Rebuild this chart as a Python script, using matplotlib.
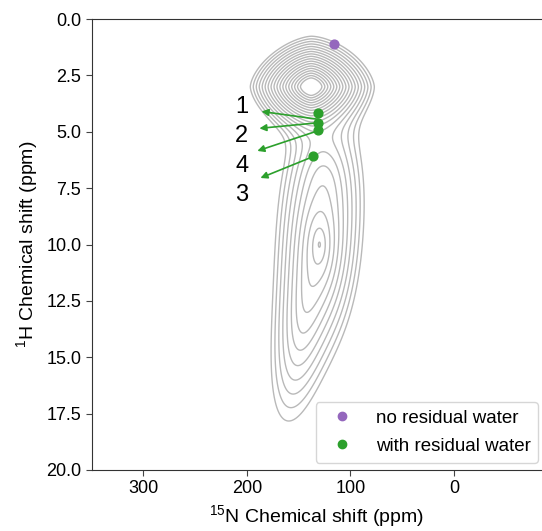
import numpy as np
import matplotlib
matplotlib.use("Agg")
import matplotlib.pyplot as plt
from matplotlib.lines import Line2D

plt.rcParams['font.family'] = ['Liberation Sans', 'DejaVu Sans']
plt.rcParams['mathtext.fontset'] = 'custom'
plt.rcParams['mathtext.rm'] = 'Liberation Sans'

# spectrum peaks:
# centre (15N ppm, 1H ppm), widths, heights, shape exponent,
# slant (15N ppm per 1H ppm) and core (0 = sharp top, 1 = rounded top)
peak_n = [138, 142, 130, 126]
peak_h = [3.0, 12.5, 10.0, 7.0]
width_n = [12.6, 13.0, 17.0, 15.0]
width_h = [0.47, 2.5, 2.0, 1.3]
peak_height = [1.0, 0.035, 0.07, 0.02]
peak_shape = [1.6, 2.0, 2.0, 2.0]
peak_slant = [0.0, 3.5, 0.0, 0.0]
peak_core = [0.0, 1.0, 0.0, 1.0]

# picked points
no_water_n = [116]
no_water_h = [1.1]
water_n = [131, 131, 131, 136]
water_h = [4.18, 4.63, 4.92, 6.06]

# arrows (start -> end) and labels
arrow_start_n = [131, 131, 131, 136]
arrow_start_h = [4.45, 4.6, 4.95, 6.1]
arrow_end_n = [186, 188, 190, 187]
arrow_end_h = [4.1, 4.85, 5.85, 7.05]
label_text = ['1', '2', '4', '3']
label_n = [205, 205, 205, 205]
label_h = [3.9, 5.2, 6.5, 7.8]

N, H = np.meshgrid(np.linspace(40, 240, 600), np.linspace(-1, 21, 700))
Z = np.zeros_like(N)
for i in range(len(peak_n)):
    p = peak_shape[i]
    c = peak_core[i]
    centre_n = peak_n[i] + peak_slant[i] * (H - peak_h[i])
    dn = np.abs(N - centre_n) / width_n[i]
    dh = np.abs(H - peak_h[i]) / width_h[i]
    d = (dn ** p + dh ** p) ** (1 / p)
    Z += peak_height[i] * np.exp(-(np.sqrt(c ** 2 + d ** 2) - c))

levels = 0.01 * 1.25 ** np.arange(18)

fig = plt.figure(figsize=(5.42, 5.31), dpi=100)
ax = fig.add_axes([91.7 / 542, 61 / 531, 1 - 91.7 / 542, 451 / 531])

ax.contour(N, H, Z, levels=levels, colors='gray', linewidths=1.0, alpha=0.55)

ax.scatter(no_water_n, no_water_h, color='tab:purple', s=40, zorder=3)
ax.scatter(water_n, water_h, color='tab:green', s=40, zorder=3)

for i in range(len(arrow_start_n)):
    ax.annotate('', xy=(arrow_end_n[i], arrow_end_h[i]),
                xytext=(arrow_start_n[i], arrow_start_h[i]),
                arrowprops=dict(arrowstyle='-|>', color='tab:green', lw=1.2,
                                mutation_scale=10, shrinkA=0, shrinkB=0))
for i in range(len(label_text)):
    ax.text(label_n[i], label_h[i], label_text[i], fontsize=17,
            ha='center', va='center')

ax.set_xlim(350, -85)
ax.set_ylim(20, 0)
ax.set_xticks([300, 200, 100, 0])
ax.set_yticks(np.arange(0, 20.1, 2.5))
ax.tick_params(labelsize=13, length=4, color='#444444')
ax.spines['right'].set_visible(False)
for s in ['left', 'bottom', 'top']:
    ax.spines[s].set_color('#333333')

ax.set_xlabel(r'$^{15}$N Chemical shift (ppm)', fontsize=14)
ax.set_ylabel(r'$^{1}$H Chemical shift (ppm)', fontsize=14)

handles = [Line2D([], [], marker='o', ls='', color='tab:purple', markersize=6),
           Line2D([], [], marker='o', ls='', color='tab:green', markersize=6)]
ax.legend(handles, ['no residual water', 'with residual water'],
          loc='lower right', fontsize=13.5, bbox_to_anchor=(1.008, 0.0),
          borderaxespad=0.4, labelspacing=0.6, handletextpad=0.8,
          borderpad=0.4)

fig.savefig('out.png', dpi=100)
